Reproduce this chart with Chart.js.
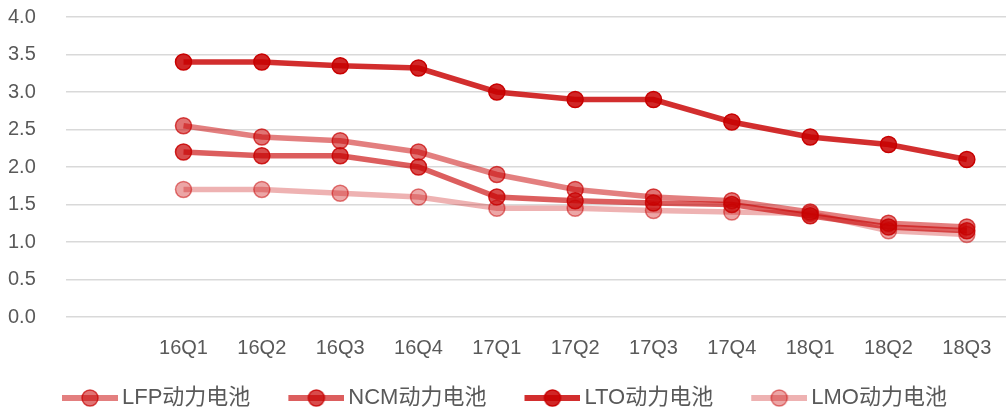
<!DOCTYPE html>
<html>
<head>
<meta charset="utf-8">
<script src="https://cdn.jsdelivr.net/npm/chart.js@4/dist/chart.umd.min.js"></script>
<style>
  html, body { margin: 0; padding: 0; background: #fff; }
  #wrap { width: 1006px; height: 415px; }
</style>
</head>
<body>
<div id="wrap"><canvas id="myChart" width="1006" height="415"></canvas></div>
<script>
// 数据
var quarters = ['16Q1', '16Q2', '16Q3', '16Q4', '17Q1', '17Q2', '17Q3', '17Q4', '18Q1', '18Q2', '18Q3'];
var lfp = [2.55, 2.40, 2.35, 2.20, 1.90, 1.70, 1.60, 1.55, 1.40, 1.25, 1.20];
var ncm = [2.20, 2.15, 2.15, 2.00, 1.60, 1.55, 1.52, 1.50, 1.35, 1.20, 1.15];
var lto = [3.40, 3.40, 3.35, 3.32, 3.00, 2.90, 2.90, 2.60, 2.40, 2.30, 2.10];
var lmo = [1.70, 1.70, 1.65, 1.60, 1.45, 1.45, 1.42, 1.40, 1.38, 1.15, 1.10];
var yTicks = [0, 0.5, 1, 1.5, 2, 2.5, 3, 3.5, 4];

var fontFamily = "'Liberation Sans', 'Noto Sans CJK SC', sans-serif";
var textColor = 'rgb(89,89,89)';
var legendFont = 22;
var legendPad = 7;
var legendBox = 80;
var lineStart = legendBox + legendFont / 2 - 4 - 56;   // visible line start inside an item

// legend marker: line + circle (left part blank = gap to previous item)
function legendIcon(lineColor, dotColor, dotBorder) {
    var c = document.createElement('canvas');
    c.width = 94;
    c.height = 22;
    var g = c.getContext('2d');
    var off = c.width / 2 - legendBox / 2;
    g.strokeStyle = lineColor;
    g.lineWidth = 6;
    g.beginPath();
    g.moveTo(off + lineStart, 11);
    g.lineTo(off + lineStart + 56, 11);
    g.stroke();
    g.fillStyle = dotColor;
    g.strokeStyle = dotBorder;
    g.lineWidth = 1.5;
    g.beginPath();
    g.arc(off + lineStart + 28, 11, 8, 0, Math.PI * 2);
    g.fill();
    g.stroke();
    return c;
}

function series(label, values, a, pa) {
    var pb = Math.min(1, pa + 0.15);
    return {
        label: label,
        data: [null].concat(values),
        borderColor: 'rgba(200,0,0,' + a + ')',
        borderWidth: 5.5,
        pointRadius: 8,
        pointHoverRadius: 8,
        pointBackgroundColor: 'rgba(200,0,0,' + pa + ')',
        pointBorderColor: 'rgba(200,0,0,' + pb + ')',
        pointBorderWidth: 1.5,
        tension: 0,
        fill: false,
        clip: false,
        legendIcon: legendIcon('rgba(200,0,0,' + a + ')', 'rgba(200,0,0,' + pa + ')', 'rgba(200,0,0,' + pb + ')')
    };
}

// nudge the legend box to where it sits in the original
var legendNudge = {
    id: 'legendNudge',
    afterLayout: function (chart) {
        var lg = chart.legend;
        if (!lg || !lg.lineWidths) return;
        var cx = (lg.left + legendPad + lg.right - lg.lineWidths[0]) / 2;
        var dx = 62 - (cx + lineStart);
        var dy = 398 - (lg.top + legendPad + legendFont / 2);
        lg.left += dx; lg.right += dx;
        lg.top += dy; lg.bottom += dy;
    }
};

var ctx = document.getElementById('myChart');
var myChart = new Chart(ctx, {
    type: 'line',
    data: {
        labels: [''].concat(quarters),
        datasets: [
            series('LFP动力电池', lfp, 0.5, 0.55),
            series('NCM动力电池', ncm, 0.63, 0.7),
            series('LTO动力电池', lto, 0.82, 0.85),
            series('LMO动力电池', lmo, 0.3, 0.35)
        ]
    },
    plugins: [legendNudge],
    options: {
        responsive: false,
        animation: false,
        spanGaps: true,
        layout: {
            autoPadding: false,
            padding: { top: 17, right: 0, left: 8, bottom: 0 }
        },
        plugins: {
            tooltip: { enabled: false },
            title: { display: false },
            legend: {
                position: 'bottom',
                labels: {
                    usePointStyle: true,
                    pointStyleWidth: legendBox,
                    padding: legendPad,
                    color: textColor,
                    font: { family: fontFamily, size: legendFont },
                    generateLabels: function (chart) {
                        return chart.data.datasets.map(function (ds, i) {
                            return {
                                text: ds.label,
                                pointStyle: ds.legendIcon,
                                fillStyle: 'transparent',
                                strokeStyle: 'transparent',
                                lineWidth: 0,
                                fontColor: textColor,
                                hidden: false,
                                datasetIndex: i
                            };
                        });
                    }
                }
            }
        },
        scales: {
            x: {
                offset: true,
                grid: {
                    display: true,
                    drawOnChartArea: false,
                    drawTicks: true,
                    tickLength: 19,
                    color: 'rgba(0,0,0,0)'
                },
                border: { display: false },
                ticks: {
                    color: textColor,
                    font: { family: fontFamily, size: 20 },
                    padding: 0,
                    maxRotation: 0,
                    autoSkip: false
                },
                afterFit: function (scale) {
                    scale.height = 59;
                    scale.paddingLeft = 0;
                    scale.paddingRight = 0;
                }
            },
            y: {
                min: 0,
                max: 4,
                afterBuildTicks: function (scale) {
                    scale.ticks = yTicks.map(function (v) { return { value: v }; });
                },
                grid: { color: '#d9d9d9', lineWidth: 1.5, drawTicks: false },
                border: { display: false },
                ticks: {
                    color: textColor,
                    font: { family: fontFamily, size: 20 },
                    padding: 0,
                    crossAlign: 'far',
                    callback: function (v) { return Number(v).toFixed(1); }
                },
                afterFit: function (scale) { scale.width = 58; }
            }
        }
    }
});
</script>
</body>
</html>
